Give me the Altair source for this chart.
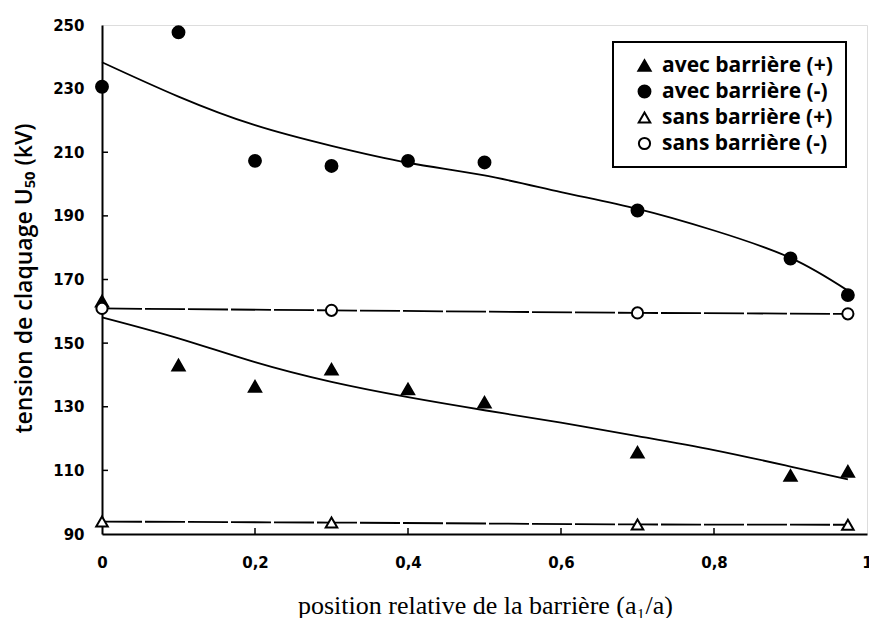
import altair as alt
import pandas as pd

series_names = ["avec barrière (+)", "avec barrière (-)", "sans barrière (+)", "sans barrière (-)"]
shapes = ["triangle-up", "circle", "triangle-up", "circle"]
fills = ["black", "black", "white", "white"]
strokes = ["black", "black", "black", "black"]
sizes = [150, 125, 100, 75]

# measured points
x_avec = [0, 0.1, 0.2, 0.3, 0.4, 0.5, 0.7, 0.9, 0.975]
y_avec_pos = [163.2, 143.1, 136.4, 141.8, 135.6, 131.4, 115.7, 108.4, 109.7]
y_avec_neg = [230.6, 247.7, 207.3, 205.7, 207.3, 206.8, 191.7, 176.6, 165.1]

x_sans = [0, 0.3, 0.7, 0.975]
y_sans_pos = [93.9, 93.6, 93.0, 92.9]
y_sans_neg = [160.9, 160.3, 159.5, 159.2]

# fitted curves
x_fit = [0, 0.1, 0.2, 0.3, 0.4, 0.5, 0.6, 0.7, 0.8, 0.9, 0.975]
fit_neg = [238.3, 227.5, 218.5, 212.0, 206.7, 202.7, 197.5, 192.2, 185.4, 176.8, 166.5]
fit_pos = [158.1, 151.5, 144.0, 137.8, 133.0, 128.9, 125.0, 120.8, 116.4, 111.2, 107.2]

x_tick_values = [0, 0.2, 0.4, 0.6, 0.8, 1.0]
y_tick_values = [90, 110, 130, 150, 170, 190, 210, 230, 250]

W, H = 765, 509

pts = pd.concat([
    pd.DataFrame({"x": x_avec, "y": y_avec_pos, "s": series_names[0]}),
    pd.DataFrame({"x": x_avec, "y": y_avec_neg, "s": series_names[1]}),
    pd.DataFrame({"x": x_sans, "y": y_sans_pos, "s": series_names[2]}),
    pd.DataFrame({"x": x_sans, "y": y_sans_neg, "s": series_names[3]}),
])
fits = pd.concat([
    pd.DataFrame({"x": x_fit, "y": fit_pos, "c": "pos"}),
    pd.DataFrame({"x": x_fit, "y": fit_neg, "c": "neg"}),
])
sans = pts[pts["s"].str.startswith("sans")]

xs = alt.Scale(domain=[0, 1], nice=False, zero=False)
ys = alt.Scale(domain=[90, 250], nice=False, zero=False)

x_axis = alt.Axis(values=x_tick_values, ticks=False, tickSize=0, grid=False,
                  labelExpr="replace(format(datum.value, '.1~f'), '.', ',')",
                  labelPadding=21, labelFont="DejaVu Sans", labelFontWeight="bold",
                  labelFontSize=15, labelColor="black", domainColor="black", domainWidth=2,
                  title="position relative de la barrière (a₁/a)", titleFont="Liberation Serif",
                  titleFontSize=26, titleFontWeight="normal", titleColor="black",
                  titleX=383, titleY=79, titleAlign="center", titleBaseline="alphabetic",
                  labelFlush=False, labelOverlap=False)
y_axis = alt.Axis(values=y_tick_values, ticks=False, tickSize=0, grid=False,
                  labelPadding=18, labelFont="DejaVu Sans", labelFontWeight="bold",
                  labelFontSize=15, labelColor="black", domainColor="black", domainWidth=2,
                  title="tension de claquage U₅₀ (kV)", titleFont="Open Sans",
                  titleFontSize=23, titleFontWeight=600, titleColor="black",
                  titleX=-78, titleY=253, titleAngle=-90, titleAlign="center",
                  titleBaseline="middle", labelFlush=False, labelOverlap=False)

fit_layer = alt.Chart(fits).mark_line(color="black", strokeWidth=1.8, interpolate="natural").encode(
    x=alt.X("x:Q", scale=xs, axis=x_axis),
    y=alt.Y("y:Q", scale=ys, axis=y_axis),
    detail="c:N",
)

sans_layer = alt.Chart(sans).mark_line(color="black", strokeWidth=1.8, strokeDash=[40, 3]).encode(
    x=alt.X("x:Q", scale=xs),
    y=alt.Y("y:Q", scale=ys),
    detail="s:N",
)

ytk = alt.Chart(pd.DataFrame({"v": y_tick_values[1:-1]})).mark_rule(color="black", strokeWidth=1.5).encode(
    y=alt.Y("v:Q", scale=ys), x=alt.value(0), x2=alt.value(6))
xtk = alt.Chart(pd.DataFrame({"v": x_tick_values[1:-1]})).mark_rule(color="black", strokeWidth=1.5).encode(
    x=alt.X("v:Q", scale=xs), y=alt.value(H), y2=alt.value(H - 6))

leg = alt.Legend(title=None, orient="none", legendX=511, legendY=17)

point_layer = alt.Chart(pts).mark_point(filled=True, strokeWidth=2, opacity=1, clip=False).encode(
    x=alt.X("x:Q", scale=xs),
    y=alt.Y("y:Q", scale=ys),
    shape=alt.Shape("s:N", scale=alt.Scale(domain=series_names, range=shapes), legend=leg),
    fill=alt.Fill("s:N", scale=alt.Scale(domain=series_names, range=fills), legend=leg),
    stroke=alt.Stroke("s:N", scale=alt.Scale(domain=series_names, range=strokes), legend=leg),
    size=alt.Size("s:N", scale=alt.Scale(domain=series_names, range=sizes), legend=leg),
)

chart = alt.layer(fit_layer, sans_layer, ytk, xtk, point_layer).properties(
    width=W, height=H,
    padding={"left": 102, "top": 25, "right": 2, "bottom": 84},
    autosize="none",
).configure_view(stroke="black", strokeWidth=2).configure(background="white").configure_legend(
    strokeColor="black", strokeWidth=2, padding=13, labelFont="Open Sans",
    labelFontSize=21, labelFontWeight="bold", labelColor="black", labelOffset=7, rowPadding=4,
    symbolOffset=8, symbolStrokeWidth=2, labelLimit=400,
)

chart.save("out.html", embed_options={"renderer": "svg", "actions": False})
